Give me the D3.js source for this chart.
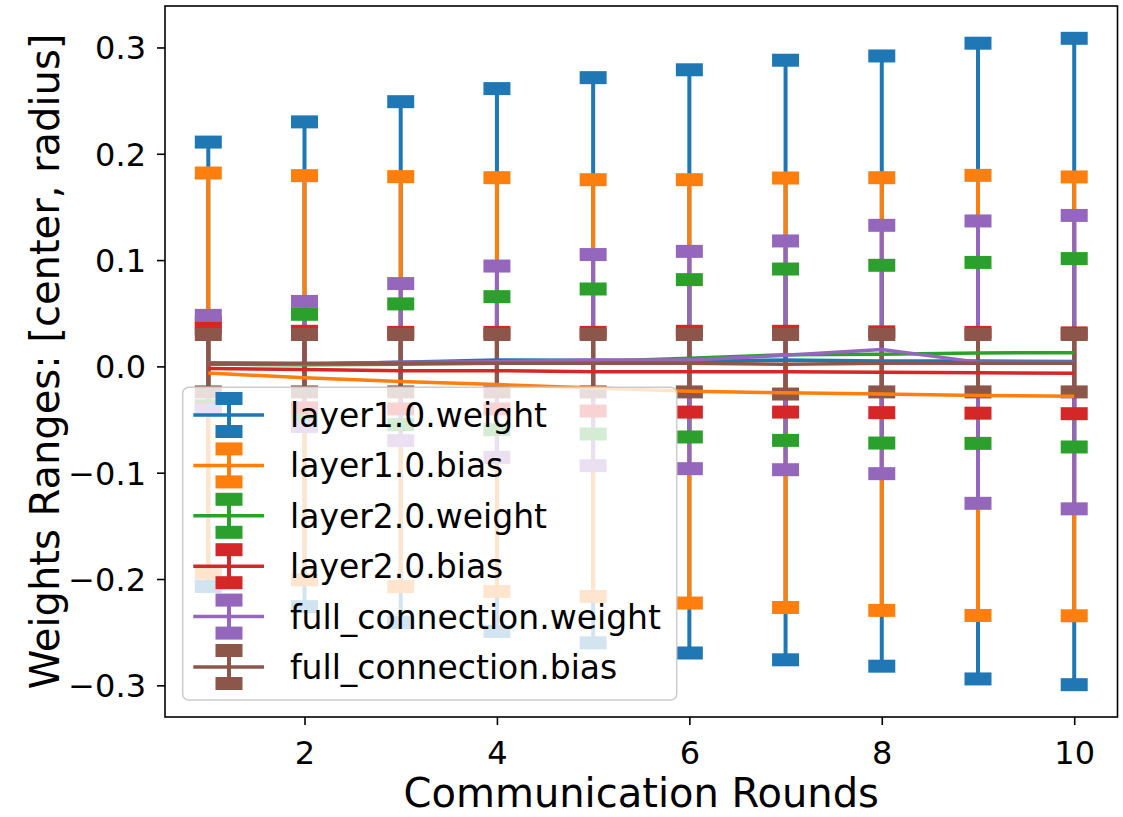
<!DOCTYPE html>
<html>
<head>
<meta charset="utf-8">
<script src="https://cdn.jsdelivr.net/npm/d3@7"></script>
<style>
html,body{margin:0;padding:0;background:#fff;}
svg{display:block;}
text{font-family:"DejaVu Sans",sans-serif;fill:#000;}
</style>
</head>
<body>
<svg id="chart" width="1123" height="817"></svg>
<script>
const rounds = [1,2,3,4,5,6,7,8,9,10];
const seriesNames = ["layer1.0.weight","layer1.0.bias","layer2.0.weight","layer2.0.bias","full_connection.weight","full_connection.bias"];
const seriesColors = ["#1f77b4","#ff7f0e","#2ca02c","#d62728","#9467bd","#8c564b"];

const layer1WeightCenter = [0.002,0.002,0.004,0.006,0.0058,0.0047,0.006,0.005,0.005,0.0046];
const layer1WeightRadius = [0.209,0.228,0.245,0.2553,0.2658,0.2743,0.282,0.287,0.299,0.304];
const layer1BiasCenter = [-0.0063,-0.0107,-0.0143,-0.0171,-0.0204,-0.0235,-0.0248,-0.026,-0.0273,-0.0282];
const layer1BiasRadius = [0.1882,0.1901,0.1928,0.1946,0.196,0.1991,0.202,0.2035,0.207,0.2064];
const layer2WeightCenter = [0.0022,0.0015,0.002,0.003,0.0046,0.0076,0.011,0.0115,0.0127,0.0128];
const layer2WeightRadius = [0.0392,0.0475,0.0568,0.0626,0.0682,0.074,0.0806,0.0836,0.0851,0.0886];
const layer2BiasCenter = [-0.002,-0.003,-0.004,-0.004,-0.005,-0.005,-0.005,-0.0055,-0.006,-0.0065];
const layer2BiasRadius = [0.038,0.036,0.036,0.036,0.037,0.038,0.038,0.038,0.038,0.038];
const fcWeightCenter = [0.0035,0.0023,0.004,0.0044,0.0059,0.006,0.0104,0.0159,0.0040,0.0040];
const fcWeightRadius = [0.0445,0.0588,0.0739,0.09,0.0993,0.1022,0.1076,0.1168,0.1328,0.138];
const fcBiasCenter = [0.003,0.003,0.003,0.003,0.003,0.003,0.002,0.003,0.003,0.003];
const fcBiasRadius = [0.027,0.027,0.027,0.027,0.027,0.027,0.028,0.027,0.027,0.027];

const xTicks = [2,4,6,8,10];
const yTicks = [-0.3,-0.2,-0.1,0.0,0.1,0.2,0.3];
const xLabel = "Communication Rounds";
const yLabel = "Weights Ranges: [center, radius]";

const centers = [layer1WeightCenter,layer1BiasCenter,layer2WeightCenter,layer2BiasCenter,fcWeightCenter,fcBiasCenter];
const radii = [layer1WeightRadius,layer1BiasRadius,layer2WeightRadius,layer2BiasRadius,fcWeightRadius,fcBiasRadius];
const series = seriesNames.map((name,i)=>({
  name, color: seriesColors[i],
  points: rounds.map((r,j)=>({x:r, c:centers[i][j], rad:radii[i][j]}))
}));

const svg = d3.select("#chart");
const L = 165, R = 1117.5, T = 6, B = 717;

// matplotlib-like 5% margins
const xmin = d3.min(rounds), xmax = d3.max(rounds);
const xm = (xmax-xmin)*0.05;
const x = d3.scaleLinear().domain([xmin-xm, xmax+xm]).range([L,R]);
let lo = d3.min(series, s=>d3.min(s.points,p=>p.c-p.rad));
let hi = d3.max(series, s=>d3.max(s.points,p=>p.c+p.rad));
const ym = (hi-lo)*0.05;
const y = d3.scaleLinear().domain([lo-ym, hi+ym]).range([B,T]);

const CAPW = 27, CAPH = 13, BARW = 4, LINEW = 3.5;

// bars
const gBars = svg.append("g");
series.forEach(s=>{
  gBars.selectAll(null).data(s.points).enter().append("line")
    .attr("x1",d=>x(d.x)).attr("x2",d=>x(d.x))
    .attr("y1",d=>y(d.c-d.rad)).attr("y2",d=>y(d.c+d.rad))
    .attr("stroke",s.color).attr("stroke-width",BARW);
});
// caps
const gCaps = svg.append("g");
series.forEach(s=>{
  const capData = s.points.flatMap(p=>[{x:p.x,v:p.c+p.rad},{x:p.x,v:p.c-p.rad}]);
  gCaps.selectAll(null).data(capData).enter().append("rect")
    .attr("x",d=>x(d.x)-CAPW/2).attr("y",d=>y(d.v)-CAPH/2)
    .attr("width",CAPW).attr("height",CAPH).attr("fill",s.color);
});
// center lines
const line = d3.line().x(d=>x(d.x)).y(d=>y(d.c));
const gLines = svg.append("g");
series.forEach(s=>{
  gLines.append("path").attr("d",line(s.points)).attr("fill","none")
    .attr("stroke",s.color).attr("stroke-width",LINEW).attr("stroke-linejoin","round");
});

// axes
const fmt = v => { const s = d3.format(".1f")(Math.abs(v)); return (v < -1e-9 ? "\u2212" : "") + s; };
const xAxis = d3.axisBottom(x).tickValues(xTicks).tickSize(8).tickPadding(6).tickFormat(d3.format("d"));
const yAxis = d3.axisLeft(y).tickValues(yTicks).tickSize(8).tickPadding(11).tickFormat(fmt);
const gx = svg.append("g").attr("transform",`translate(0,${B})`).call(xAxis);
const gy = svg.append("g").attr("transform",`translate(${L},0)`).call(yAxis);
[gx,gy].forEach(g=>{
  g.select(".domain").remove();
  g.selectAll(".tick line").attr("stroke","#000").attr("stroke-width",1.6);
  g.selectAll(".tick text").attr("font-family","DejaVu Sans").attr("font-size",32).attr("fill","#000");
});
gx.selectAll(".tick text").attr("dy",null).attr("y",46.5);
gy.selectAll(".tick text").attr("dy","0.36em");

// frame
svg.append("rect").attr("x",L).attr("y",T).attr("width",R-L).attr("height",B-T)
  .attr("fill","none").attr("stroke","#000").attr("stroke-width",1.6);

// labels
svg.append("text").attr("x",(L+R)/2).attr("y",807).attr("text-anchor","middle")
  .attr("font-size",40).text(xLabel);
svg.append("text").attr("transform",`translate(59,${(T+B)/2}) rotate(-90)`).attr("text-anchor","middle")
  .attr("font-size",40).text(yLabel);

// legend
const lg = svg.append("g");
lg.append("rect").attr("x",182.7).attr("y",387.3).attr("width",494).attr("height",312.7)
  .attr("rx",6).attr("ry",6).attr("fill","#fff").attr("fill-opacity",0.8)
  .attr("stroke","#cccccc").attr("stroke-width",1.5);
const rowY0 = 415, rowDY = 50.4;
series.forEach((s,i)=>{
  const cy = rowY0 + i*rowDY;
  const hx0 = 193.3, hx1 = 264, hc = 229;
  lg.append("line").attr("x1",hc).attr("x2",hc).attr("y1",cy-16.5).attr("y2",cy+16.5)
    .attr("stroke",s.color).attr("stroke-width",BARW);
  lg.append("rect").attr("x",hc-CAPW/2).attr("y",cy-16.5-CAPH/2).attr("width",CAPW).attr("height",CAPH).attr("fill",s.color);
  lg.append("rect").attr("x",hc-CAPW/2).attr("y",cy+16.5-CAPH/2).attr("width",CAPW).attr("height",CAPH).attr("fill",s.color);
  lg.append("line").attr("x1",hx0).attr("x2",hx1).attr("y1",cy).attr("y2",cy)
    .attr("stroke",s.color).attr("stroke-width",LINEW);
  lg.append("text").attr("x",290).attr("y",cy+12).attr("font-size",33).text(s.name);
});
</script>
</body>
</html>
